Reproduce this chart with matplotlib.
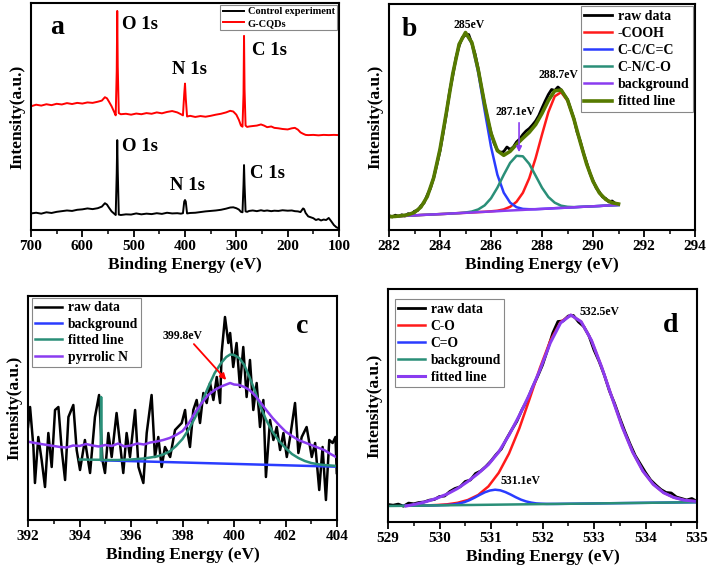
import matplotlib
matplotlib.use("Agg")
import matplotlib.pyplot as plt
from matplotlib.ticker import MultipleLocator

plt.rcParams["font.family"] = ["Liberation Serif", "DejaVu Serif"]
plt.rcParams["font.weight"] = "bold"

# --------------------------------------------------------------------------
# (a) survey spectra
# --------------------------------------------------------------------------
survey_x = [700, 690, 680, 670, 660, 650, 640, 630, 620, 610, 600, 590, 580, 570,
            562, 556, 552, 548, 543, 538, 535, 533, 532, 531, 529, 525, 515, 505,
            495, 485, 475, 465, 455, 445, 435, 425, 415, 408, 404, 401.5, 400,
            398.5, 396, 390, 380, 370, 360, 350, 340, 330, 320, 312, 306, 300,
            295, 291, 288, 286, 285, 284, 282, 279, 275, 268, 260, 252, 246, 240,
            232, 226, 218, 210, 200, 192, 186, 180, 175, 170, 165, 160, 150, 140,
            130, 120, 110, 100]
gcqd_y = [54.5, 55.2, 54.8, 55.4, 55.0, 55.6, 55.3, 55.9, 55.5, 56.0, 55.7, 56.2,
          56.0, 56.5, 57.0, 58.5, 58.0, 56.5, 54.5, 52.0, 50.5, 70.0, 96.5, 72.0,
          51.5, 51.0, 51.2, 50.8, 51.3, 51.0, 51.5, 51.2, 51.8, 51.4, 52.0, 52.4,
          51.8, 51.0, 50.5, 60.0, 64.5, 58.0, 50.0, 50.3, 49.8, 50.2, 49.9, 50.3,
          50.8, 51.2, 51.8, 52.5, 52.2, 50.8, 48.5, 46.0, 45.5, 60.0, 85.5, 62.0,
          46.0, 45.4, 45.6, 45.8, 46.0, 46.5, 46.0, 45.3, 45.6, 45.0, 44.8, 44.5,
          44.3, 44.8, 45.0, 44.2, 43.0, 42.4, 41.9, 41.8, 41.9, 41.7, 41.9, 41.8,
          41.9, 41.8]

control_x = [700, 690, 680, 670, 660, 650, 640, 630, 620, 610, 600, 590, 580, 570,
             562, 556, 552, 548, 543, 538, 535, 533, 532, 531, 529, 525, 515, 505,
             495, 485, 475, 465, 455, 445, 435, 425, 415, 408, 404, 401.5, 400,
             398.5, 396, 390, 380, 370, 360, 350, 340, 330, 320, 312, 306, 300,
             295, 291, 288, 286, 285, 284, 282, 279, 275, 268, 260, 252, 246, 240,
             232, 226, 218, 210, 200, 192, 186, 180, 175, 170, 168, 165, 160, 150,
             145, 140, 135, 130, 125, 120, 115, 110, 105, 100]
control_y = [7.3, 7.6, 7.2, 7.8, 7.5, 8.0, 8.3, 8.6, 8.4, 8.9, 9.1, 9.5, 9.2, 9.6,
             10.3, 11.8, 11.2, 9.8, 8.2, 7.2, 6.6, 25.0, 39.6, 26.0, 6.8, 6.6, 6.9,
             6.8, 7.3, 6.9, 7.2, 7.0, 7.4, 7.1, 7.6, 7.3, 7.4, 7.2, 7.4, 12.5, 13.2,
             12.5, 7.3, 7.5, 7.6, 7.9, 8.2, 8.4, 8.6, 8.9, 9.4, 9.9, 10.0, 9.6, 9.0,
             8.0, 7.8, 20.0, 28.6, 20.0, 8.2, 8.0, 8.4, 8.6, 8.3, 8.7, 8.4, 8.6, 8.3,
             8.5, 8.4, 8.7, 8.5, 8.6, 8.3, 8.2, 7.9, 9.5, 9.2, 7.5, 6.0, 5.2, 4.4,
             4.8, 4.2, 4.6, 4.4, 5.3, 3.8, 2.2, 1.2, 0.7]

# --------------------------------------------------------------------------
# (b) C 1s
# --------------------------------------------------------------------------
c1s_x = [282.0, 282.25, 282.5, 282.75, 283.0, 283.25, 283.5, 283.75, 284.0,
         284.25, 284.5, 284.75, 285.0, 285.25, 285.5, 285.75, 286.0, 286.25,
         286.5, 286.75, 287.0, 287.25, 287.5, 287.75, 288.0, 288.25, 288.5,
         288.75, 289.0, 289.25, 289.5, 289.75, 290.0, 290.25, 290.5, 290.75, 291.0]
c1s_bg = [13.3, 13.6, 14.0, 14.3, 14.6, 15.0, 15.3, 15.6, 15.9, 16.2, 16.6, 16.9,
          17.2, 17.5, 17.9, 18.2, 18.5, 18.8, 19.2, 19.5, 19.8, 20.1, 20.5, 20.8,
          21.1, 21.4, 21.8, 22.1, 22.4, 22.7, 23.1, 23.4, 23.7, 24.0, 24.4, 24.7, 25.0]
c1s_cc = [13.3, 13.6, 14.3, 15.3, 17.6, 22.9, 33.4, 52.1, 80.7, 117.6, 156.1,
          185.8, 197.2, 186.4, 157.4, 119.6, 83.3, 55.3, 37.3, 27.4, 22.8, 21.1,
          20.8, 20.8, 21.1, 21.4, 21.8, 22.1, 22.4, 22.7, 23.1, 23.4, 23.7, 24.0,
          24.4, 24.7, 25.0]
c1s_cn = [13.3, 13.6, 14.0, 14.3, 14.6, 15.0, 15.3, 15.6, 15.9, 16.2, 16.6, 16.9,
          17.5, 18.5, 20.6, 24.6, 31.7, 42.3, 55.2, 67.1, 74.2, 73.7, 66.1, 54.3,
          42.3, 33.0, 27.3, 24.3, 23.2, 22.9, 23.1, 23.4, 23.7, 24.0, 24.4, 24.7, 25.0]
c1s_cooh = [13.3, 13.6, 14.0, 14.3, 14.6, 15.0, 15.3, 15.6, 15.9, 16.2, 16.6,
            16.9, 17.2, 17.5, 17.9, 18.2, 18.7, 19.3, 20.6, 23.2, 28.2, 37.2, 51.8,
            71.9, 95.4, 117.9, 133.7, 137.8, 129.3, 110.8, 87.9, 66.0, 48.7, 37.1,
            30.5, 27.2, 26.0]
c1s_fit = [13.3, 13.6, 14.3, 15.3, 17.6, 22.9, 33.4, 52.1, 80.7, 117.6, 156.1,
           185.8, 197.5, 187.4, 160.1, 126.0, 96.7, 79.3, 74.7, 78.7, 85.6, 91.8,
           97.7, 105.4, 116.6, 129.5, 139.2, 140.0, 130.1, 111.0, 87.9, 66.0, 48.7,
           37.1, 30.5, 27.2, 26.0]
c1s_raw_x = [282.0, 282.125, 282.25, 282.375, 282.5, 282.625, 282.75, 282.875,
             283.0, 283.125, 283.25, 283.375, 283.5, 283.625, 283.75, 283.875,
             284.0, 284.125, 284.25, 284.375, 284.5, 284.625, 284.75, 284.875,
             285.0, 285.125, 285.25, 285.375, 285.5, 285.625, 285.75, 285.875,
             286.0, 286.125, 286.25, 286.375, 286.5, 286.625, 286.75, 286.875,
             287.0, 287.125, 287.25, 287.375, 287.5, 287.625, 287.75, 287.875,
             288.0, 288.125, 288.25, 288.375, 288.5, 288.625, 288.75, 288.875,
             289.0, 289.125, 289.25, 289.375, 289.5, 289.625, 289.75, 289.875,
             290.0, 290.125, 290.25, 290.375, 290.5, 290.625, 290.75, 290.875, 291.0]
c1s_raw_y = [14.5, 13.0, 14.8, 13.6, 15.2, 14.0, 16.3, 15.6, 18.8, 19.5, 24.2,
             27.0, 35.0, 41.5, 52.0, 65.0, 79.0, 97.0, 116.0, 138.0, 154.0, 172.0,
             184.0, 192.5, 195.0, 195.5, 186.5, 176.0, 161.0, 143.0, 126.0, 110.0,
             97.5, 86.5, 80.0, 77.5, 78.5, 83.0, 80.5, 83.0, 88.0, 91.0, 95.5, 99.0,
             101.5, 105.0, 109.0, 114.5, 122.0, 129.0, 135.5, 140.5, 139.5, 143.0,
             140.0, 135.0, 130.5, 121.0, 111.5, 98.0, 89.0, 77.0, 67.5, 57.0, 49.5,
             42.0, 38.0, 33.0, 31.5, 28.0, 29.0, 26.5, 25.5]

# --------------------------------------------------------------------------
# (c) N 1s
# --------------------------------------------------------------------------
n1s_raw_x = [392.00, 392.08, 392.21, 392.27, 392.40, 392.53, 392.66, 392.79,
             392.92, 393.05, 393.18, 393.31, 393.44, 393.57, 393.76, 393.89,
             394.02, 394.21, 394.41, 394.60, 394.76, 394.89, 394.99, 395.12,
             395.25, 395.44, 395.57, 395.70, 395.83, 395.96, 396.16, 396.29,
             396.48, 396.61, 396.80, 396.93, 397.06, 397.19, 397.32, 397.52,
             397.71, 397.97, 398.10, 398.16, 398.29, 398.42, 398.55, 398.68,
             398.81, 398.94, 399.07, 399.20, 399.33, 399.46, 399.52, 399.65,
             399.78, 399.85, 399.97, 400.10, 400.23, 400.36, 400.49, 400.62,
             400.75, 400.88, 401.01, 401.14, 401.24, 401.40, 401.53, 401.66,
             401.79, 401.92, 402.05, 402.18, 402.37, 402.50, 402.63, 402.82,
             403.02, 403.15, 403.31, 403.44, 403.57, 403.70, 403.83, 403.94, 403.99]
n1s_raw_y = [93, 113, 73, 37, 83, 60, 33, 87, 53, 110, 113, 70, 40, 103, 115, 70,
             50, 80, 47, 103, 125, 60, 47, 87, 63, 107, 77, 47, 87, 63, 110, 53,
             37, 87, 125, 63, 83, 53, 73, 63, 90, 97, 110, 93, 73, 110, 120, 97,
             127, 117, 137, 120, 143, 117, 167, 203, 177, 187, 153, 177, 133, 173,
             123, 160, 110, 137, 93, 120, 43, 100, 80, 93, 70, 87, 63, 83, 117, 67,
             83, 93, 63, 77, 30, 73, 20, 80, 77, 83, 47]
n1s_bg_x = [394.85, 404.0]
n1s_bg_y = [59.7, 53.3]
n1s_fit_x = [394.0, 394.5, 394.82, 394.84, 394.86, 395.5, 396.0, 396.5, 397.0,
             397.25, 397.5, 397.75, 398.0, 398.25, 398.5, 398.75, 399.0, 399.25,
             399.5, 399.7, 399.85, 400.0, 400.2, 400.4, 400.6, 400.8, 401.0,
             401.25, 401.5, 401.75, 402.0, 402.25, 402.5, 402.75, 403.0, 403.25,
             403.5, 403.75, 404.0]
n1s_fit_y = [60.5, 60.3, 60.2, 123.0, 60.0, 60.0, 60.5, 61.5, 63.5, 65.5, 68.5,
             74.0, 81.0, 91.0, 103.0, 118.0, 133.0, 147.0, 157.0, 163.0, 165.5,
             165.0, 162.0, 155.0, 143.0, 130.0, 115.0, 100.0, 88.0, 79.0, 72.0,
             66.0, 62.0, 59.0, 57.0, 55.8, 55.0, 54.5, 54.0]
n1s_pyr_x = [392.0, 392.5, 393.0, 393.25, 393.5, 393.75, 394.0, 394.25, 394.5,
             394.75, 395.0, 395.25, 395.5, 395.75, 396.0, 396.25, 396.5, 396.75,
             397.0, 397.25, 397.5, 397.75, 398.0, 398.25, 398.5, 398.75, 399.0,
             399.25, 399.5, 399.7, 399.85, 400.0, 400.2, 400.4, 400.6, 400.8,
             401.0, 401.25, 401.5, 401.75, 402.0, 402.25, 402.5, 402.75, 403.0,
             403.25, 403.5, 403.75, 404.0]
n1s_pyr_y = [78.3, 76.0, 74.0, 73.0, 72.5, 74.5, 74.0, 76.0, 74.5, 73.5, 75.0,
             74.0, 76.5, 73.5, 74.5, 76.5, 75.5, 77.5, 78.5, 80.0, 82.0, 85.0, 89.0,
             97.0, 108.0, 117.0, 125.0, 130.0, 133.5, 135.5, 137.0, 135.5, 135.0,
             133.0, 130.0, 125.0, 118.5, 110.0, 102.0, 95.0, 88.5, 84.0, 80.0, 77.5,
             75.0, 72.5, 70.0, 66.0, 62.5]

# --------------------------------------------------------------------------
# (d) O 1s
# --------------------------------------------------------------------------
o1s_raw_x = [529.0, 529.1, 529.2, 529.3, 529.4, 529.5, 529.6, 529.7, 529.8, 529.9,
             530.0, 530.1, 530.2, 530.3, 530.4, 530.5, 530.6, 530.7, 530.8, 530.9,
             531.0, 531.1, 531.2, 531.3, 531.4, 531.5, 531.6, 531.7, 531.8, 531.9,
             532.0, 532.1, 532.2, 532.3, 532.4, 532.5, 532.6, 532.7, 532.8, 532.9,
             533.0, 533.1, 533.2, 533.3, 533.4, 533.5, 533.6, 533.7, 533.8, 533.9,
             534.0, 534.1, 534.2, 534.3, 534.4, 534.5, 534.6, 534.7, 534.8, 534.9,
             535.0]
o1s_raw_y = [17.5, 16.8, 17.9, 15.8, 18.9, 18.2, 19.5, 20.0, 21.8, 22.5, 25.5,
             26.0, 30.5, 33.5, 35.2, 40.5, 42.0, 48.5, 51.0, 55.5, 61.0, 67.5, 73.0,
             83.0, 92.0, 100.5, 112.0, 121.5, 134.0, 145.0, 157.0, 172.5, 189.0,
             200.5, 201.0, 206.0, 206.5, 200.0, 195.5, 186.5, 172.0, 160.5, 147.0,
             131.0, 118.5, 104.0, 90.5, 78.0, 66.5, 58.0, 49.5, 42.0, 37.0, 32.5,
             29.5, 29.0, 25.0, 23.5, 22.0, 23.5, 20.5]
o1s_x = [529.35, 529.55, 529.75, 529.95, 530.15, 530.35, 530.55, 530.75, 530.95,
         531.15, 531.35, 531.55, 531.75, 531.95, 532.15, 532.35, 532.55, 532.75,
         532.95, 533.15, 533.35, 533.55, 533.75, 533.95, 534.15, 534.35, 534.55,
         534.75, 534.95]
o1s_co = [16.2, 16.3, 16.6, 17.0, 17.7, 19.2, 22.0, 27.0, 35.6, 49.2, 68.5, 93.6,
          123.2, 154.0, 181.2, 200.0, 207.0, 200.3, 181.7, 154.7, 124.3, 94.9,
          70.0, 50.9, 37.7, 29.3, 24.5, 21.9, 20.8]
o1s_fit = [16.0, 18.0, 20.5, 23.8, 28.0, 33.5, 40.5, 48.5, 57.5, 70.0, 87.0,
           106.5, 128.0, 152.0, 179.0, 199.0, 207.0, 200.3, 181.7, 154.7, 124.3,
           94.9, 70.0, 50.9, 37.7, 29.3, 24.5, 21.9, 20.8]
o1s_dbl_x = [529.3, 529.88, 530.08, 530.18, 530.28, 530.38, 530.48, 530.58, 530.68,
             530.78, 530.88, 530.98, 531.08, 531.18, 531.28, 531.38, 531.48,
             531.58, 531.68, 531.78, 531.88, 531.98, 532.08, 532.28, 535.0]
o1s_dbl_y = [16.2, 16.6, 16.9, 17.1, 17.6, 18.5, 19.8, 21.8, 24.3, 27.1, 29.7,
             31.5, 32.3, 31.7, 29.9, 27.5, 24.8, 22.4, 20.6, 19.4, 18.6, 18.3, 18.1,
             18.1, 19.8]
o1s_bg_x = [529.0, 535.0]
o1s_bg_y = [16.0, 19.8]

RED = "#ff1a1a"
BLUE = "#2a3cff"
TEAL = "#2a8f78"
PURPLE = "#8a3cf0"
OLIVE = "#567a00"


def style_axes(ax, xlim, major, minor, ylim):
    ax.set_xlim(*xlim)
    ax.set_ylim(*ylim)
    ax.xaxis.set_major_locator(MultipleLocator(major))
    ax.xaxis.set_minor_locator(MultipleLocator(minor))
    ax.set_yticks([])
    ax.tick_params(axis="x", which="major", direction="out", length=5, width=1.3,
                   labelsize=11, pad=2)
    ax.tick_params(axis="x", which="minor", direction="out", length=3, width=1.1)
    for lab in ax.get_xticklabels():
        lab.set_fontweight("bold")
    for sp in ax.spines.values():
        sp.set_linewidth(1.5)
    ax.set_xlabel("Binding Energy (eV)", fontsize=12.5, fontweight="bold", labelpad=3)
    ax.set_ylabel("Intensity(a.u.)", fontsize=12.5, fontweight="bold", labelpad=4)


def legend(ax, size, spacing=0.2, **kw):
    leg = ax.legend(frameon=True, fancybox=False, framealpha=1,
                    edgecolor="#888888", handlelength=2.0, handletextpad=0.4,
                    borderpad=0.25, labelspacing=spacing, borderaxespad=0.15,
                    prop={"weight": "bold", "size": size}, **kw)
    leg.get_frame().set_linewidth(0.8)
    return leg


fig = plt.figure(figsize=(7.09, 5.69), dpi=100)

# ---- (a) ----
ax = fig.add_axes([31 / 709, 1 - 230 / 569, 308 / 709, 227 / 569])
ax.plot(control_x, control_y, color="black", lw=1.4, label="Control experiment")
ax.plot(survey_x, gcqd_y, color="red", lw=1.4, label="G-CQDs")
style_axes(ax, (700, 100), 100, 50, (0, 100))
legend(ax, 7.5, loc="upper right")
ax.text(0.062, 0.894, "a", transform=ax.transAxes, fontsize=20, fontweight="bold",
        va="center")
pk = dict(fontsize=13.5, fontweight="bold", va="center", ha="left")
ax.text(522, 90.7, "O 1s", **pk)
ax.text(425, 70.5, "N 1s", **pk)
ax.text(269, 78.9, "C 1s", **pk)
ax.text(522, 36.6, "O 1s", **pk)
ax.text(429, 19.4, "N 1s", **pk)
ax.text(273, 24.7, "C 1s", **pk)

# ---- (b) ----
ax = fig.add_axes([389 / 709, 1 - 230 / 569, 306 / 709, 226 / 569])
ax.plot(c1s_raw_x, c1s_raw_y, color="black", lw=2.0, label="raw data")
ax.plot(c1s_x, c1s_cooh, color=RED, lw=1.8, label="-COOH")
ax.plot(c1s_x, c1s_cc, color=BLUE, lw=1.8, label="C-C/C=C")
ax.plot(c1s_x, c1s_cn, color=TEAL, lw=1.8, label="C-N/C-O")
ax.plot(c1s_x, c1s_bg, color=PURPLE, lw=1.8, label="background")
ax.plot(c1s_x, c1s_fit, color=OLIVE, lw=2.6, label="fitted line")
style_axes(ax, (282, 294), 2, 1, (0, 226))
legend(ax, 10, spacing=0.3, loc="upper right")
ax.text(0.042, 0.885, "b", transform=ax.transAxes, fontsize=20, fontweight="bold",
        va="center")
ann = dict(fontsize=8.5, fontweight="bold", ha="center", va="center")
ax.text(285.16, 205, "285eV", **ann)
ax.text(288.63, 155, "288.7eV", **ann)
ax.text(286.94, 118, "287.1eV", **ann)
ax.annotate("", xy=(287.1, 75), xytext=(287.1, 110),
            arrowprops=dict(arrowstyle="-|>", color=PURPLE, lw=1.2,
                            mutation_scale=8))

# ---- (c) ----
ax = fig.add_axes([28 / 709, 1 - 520 / 569, 309 / 709, 224 / 569])
ax.plot(n1s_raw_x, n1s_raw_y, color="black", lw=1.8, label="raw data")
ax.plot(n1s_bg_x, n1s_bg_y, color=BLUE, lw=1.8, label="background")
ax.plot(n1s_fit_x, n1s_fit_y, color=TEAL, lw=1.8, label="fitted line")
ax.plot(n1s_pyr_x, n1s_pyr_y, color=PURPLE, lw=1.8, label="pyrrolic N")
style_axes(ax, (392, 404), 2, 1, (0, 224))
legend(ax, 9.8, spacing=0.25, loc="upper left", bbox_to_anchor=(0.005, 1.0))
ax.text(0.887, 0.862, "c", transform=ax.transAxes, fontsize=20, fontweight="bold",
        ha="center", va="center")
ax.text(398.02, 184, "399.8eV", **ann)
ax.annotate("", xy=(399.77, 138), xytext=(398.37, 178),
            arrowprops=dict(arrowstyle="-|>", color="red", lw=1.3,
                            mutation_scale=9))

# ---- (d) ----
ax = fig.add_axes([388 / 709, 1 - 522 / 569, 309 / 709, 233 / 569])
ax.plot(o1s_raw_x, o1s_raw_y, color="black", lw=2.0, label="raw data")
ax.plot(o1s_x, o1s_co, color=RED, lw=1.8, label="C-O")
ax.plot(o1s_dbl_x, o1s_dbl_y, color=BLUE, lw=1.8, label="C=O")
ax.plot(o1s_bg_x, o1s_bg_y, color=TEAL, lw=1.8, label="background")
ax.plot(o1s_x, o1s_fit, color=PURPLE, lw=2.2, label="fitted line")
style_axes(ax, (529, 535), 1, 0.5, (0, 233))
legend(ax, 9.8, spacing=0.3, loc="upper left", bbox_to_anchor=(0.015, 0.965))
ax.text(0.916, 0.845, "d", transform=ax.transAxes, fontsize=20, fontweight="bold",
        ha="center", va="center")
ax.text(533.11, 210, "532.5eV", **ann)
ax.text(531.57, 41, "531.1eV", **ann)

fig.savefig("out.png", dpi=100, facecolor="white")
